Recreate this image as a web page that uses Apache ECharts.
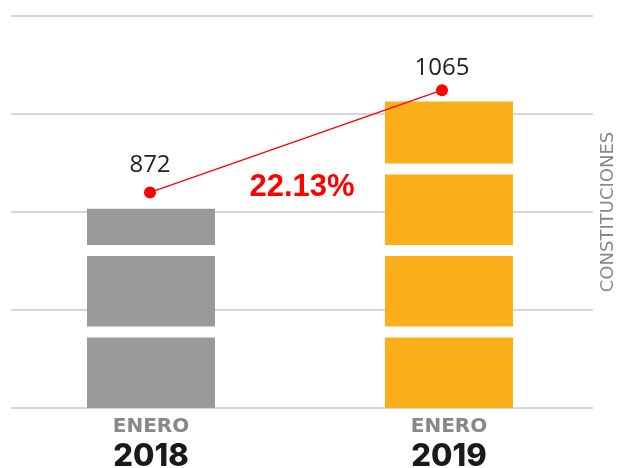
<!DOCTYPE html>
<html>
<head>
<meta charset="utf-8">
<script src="https://cdn.jsdelivr.net/npm/echarts@6/dist/echarts.min.js"></script>
<style>
  html, body { margin: 0; padding: 0; background: #fff; }
  #chart { width: 624px; height: 468px; }
</style>
</head>
<body>
<div id="chart"></div>
<script>
/* datos */
const meses = ['ENERO', 'ENERO']
const anios = ['2018', '2019']
const constituciones = [872, 1065]
const colores = ['#999999', '#FBAF1A']

/* variacion entre los dos años */
const variacion = ((constituciones[1] - constituciones[0]) / constituciones[0] * 100).toFixed(2) + '%'

/* eje de las barras (no empieza en cero) */
const barMin = 513
const barMax = 1219

/* barras partidas en bloques */
const BLOQUE = 70.5
const HUECO = 11
const ANCHO = 128

const renderBarra = (params, api) => {
  const base = api.coord([api.value(0), barMin])
  const top = api.coord([api.value(0), api.value(1)])
  const children = []
  for (let y = base[1]; y > top[1] + 0.5; y -= BLOQUE + HUECO) {
    const h = Math.min(BLOQUE, y - top[1])
    children.push({
      type: 'rect',
      shape: {x: base[0] - ANCHO / 2, y: y - h, width: ANCHO, height: h},
      style: {fill: colores[params.dataIndex]}
    })
  }
  return {type: 'group', children}
}

const chart = echarts.init(document.getElementById('chart'))

chart.setOption({
  animation: false,
  grid: [
    // lineas guia
    {left: 11, right: 31, top: 16, bottom: 60, outerBoundsMode: 'none'},
    // barras
    {left: 2, right: 26, top: 16, bottom: 60, outerBoundsMode: 'none'},
    // linea de variacion
    {left: 4, right: 36, top: 16, bottom: 60, outerBoundsMode: 'none'}
  ],
  xAxis: [
    {gridIndex: 0, type: 'category', data: anios, show: false},
    {
      gridIndex: 1,
      type: 'category',
      data: anios,
      axisLine: {show: false},
      axisTick: {show: false},
      axisLabel: {
        margin: 6,
        formatter: (value, index) => '{m|' + meses[index] + '}\n{y|' + value + '}',
        rich: {
          m: {fontFamily: 'DejaVu Sans', fontWeight: 'bold', fontSize: 20, color: '#888', lineHeight: 26},
          y: {fontFamily: 'Inter', fontWeight: 800, fontSize: 31, color: '#1a1a1a', lineHeight: 34}
        }
      }
    },
    {gridIndex: 2, type: 'category', data: anios, show: false}
  ],
  yAxis: [
    {
      gridIndex: 0,
      type: 'value',
      position: 'right',
      min: 0,
      max: 4,
      interval: 1,
      axisLine: {show: false},
      axisTick: {show: false},
      axisLabel: {show: false},
      splitLine: {lineStyle: {color: '#d6d6d6', width: 2}},
      name: 'CONSTITUCIONES',
      nameLocation: 'middle',
      nameRotate: 90,
      nameGap: 6,
      nameTextStyle: {fontFamily: 'DejaVu Sans', fontSize: 18, color: '#888'}
    },
    {gridIndex: 1, type: 'value', min: barMin, max: barMax, show: false},
    {gridIndex: 2, type: 'value', min: 465, max: 1205, show: false}
  ],
  series: [
    {
      type: 'custom',
      xAxisIndex: 1,
      yAxisIndex: 1,
      renderItem: renderBarra,
      encode: {x: 0, y: 1},
      data: constituciones.map((v, i) => [i, v])
    },
    {
      type: 'line',
      xAxisIndex: 2,
      yAxisIndex: 2,
      z: 5,
      data: constituciones.map((v, i) => ({value: v, label: {distance: i === 0 ? 9 : 4}})),
      symbol: 'circle',
      symbolSize: 12,
      itemStyle: {color: '#ff0000'},
      lineStyle: {color: '#ff0000', width: 1.3},
      label: {
        show: true,
        position: 'top',
        fontFamily: 'Open Sans',
        fontSize: 24,
        color: '#222'
      }
    }
  ],
  graphic: [
    {
      type: 'text',
      x: 302,
      y: 187,
      style: {
        text: variacion,
        fontFamily: 'Liberation Sans',
        fontWeight: 'bold',
        fontSize: 31,
        fill: '#ff0000',
        align: 'center',
        verticalAlign: 'middle'
      }
    }
  ]
})
</script>
</body>
</html>
